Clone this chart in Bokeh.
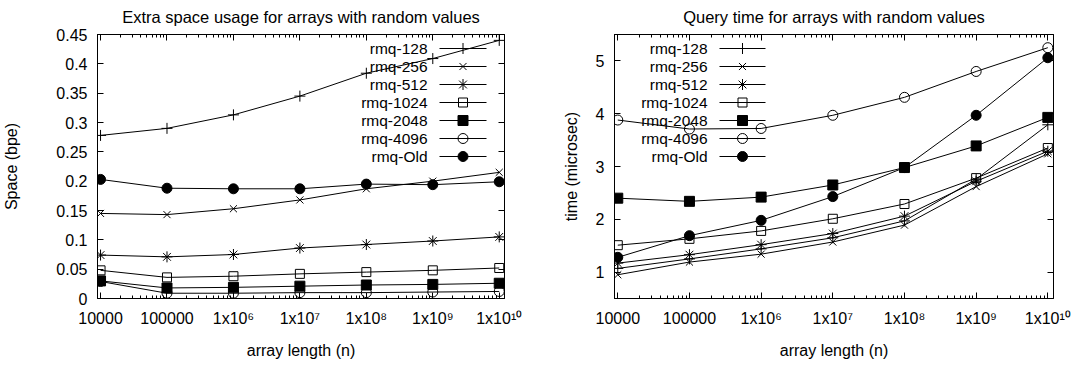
import math
from bokeh.plotting import figure
from bokeh.layouts import row
from bokeh.models import FixedTicker, LogAxis, LinearAxis, Range1d
from bokeh.embed import file_html
from bokeh.resources import INLINE
from bokeh.core.properties import value

# ---------------- data ----------------
n = [1e4, 1e5, 1e6, 1e7, 1e8, 1e9, 1e10]
series_names = ["rmq-128", "rmq-256", "rmq-512", "rmq-1024", "rmq-2048", "rmq-4096", "rmq-Old"]

space_128 = [0.278, 0.290, 0.313, 0.345, 0.384, 0.409, 0.440]
space_256 = [0.145, 0.143, 0.153, 0.168, 0.187, 0.200, 0.215]
space_512 = [0.074, 0.071, 0.075, 0.086, 0.092, 0.098, 0.105]
space_1024 = [0.048, 0.036, 0.038, 0.042, 0.045, 0.048, 0.052]
space_2048 = [0.030, 0.018, 0.019, 0.021, 0.023, 0.024, 0.026]
space_4096 = [0.029, 0.009, 0.009, 0.010, 0.010, 0.011, 0.012]
space_old = [0.203, 0.188, 0.187, 0.187, 0.195, 0.194, 0.199]

time_128 = [1.07, 1.25, 1.44, 1.65, 1.97, 2.76, 3.79]
time_256 = [0.95, 1.19, 1.34, 1.57, 1.89, 2.62, 3.24]
time_512 = [1.17, 1.33, 1.52, 1.73, 2.06, 2.72, 3.29]
time_1024 = [1.51, 1.63, 1.78, 2.01, 2.29, 2.78, 3.35]
time_2048 = [2.40, 2.34, 2.42, 2.65, 2.98, 3.39, 3.93]
time_4096 = [3.88, 3.71, 3.72, 3.97, 4.31, 4.80, 5.25]
time_old = [1.28, 1.69, 1.98, 2.43, 2.98, 3.97, 5.06]

x_tick_values = [1e4, 1e5, 1e6, 1e7, 1e8, 1e9, 1e10]
x_tick_labels = ["10000", "100000", "1x10\u2076", "1x10\u2077", "1x10\u2078", "1x10\u2079", "1x10\u00b9\u2070"]
space_tick_values = [0.0, 0.05, 0.1, 0.15, 0.2, 0.25, 0.3, 0.35, 0.4, 0.45]
space_tick_labels = ["0", "0.05", "0.1", "0.15", "0.2", "0.25", "0.3", "0.35", "0.4", "0.45"]
time_tick_values = [1.0, 2.0, 3.0, 4.0, 5.0]
time_tick_labels = ["1", "2", "3", "4", "5"]

space_series = [space_128, space_256, space_512, space_1024, space_2048, space_4096, space_old]
time_series = [time_128, time_256, time_512, time_1024, time_2048, time_4096, time_old]

# marker styles (gnuplot point types 1..7)
MARKERS = [("cross", 11, False), ("x", 10, False), ("asterisk", 11, False),
           ("square", 9, False), ("square", 10, True), ("circle", 10, False), ("circle", 10, True)]

FONT = "Liberation Sans"
FS = "16px"
LEG_FS = "15.5px"
TITLE_FS = "16.5px"
X_MIN, X_MAX = 9000, 1.2e10
minor = [k * 10 ** d for d in range(3, 11) for k in range(2, 10)]


def make_plot(title, ylabel, y_min, y_max, yticks, ylabels, series,
              frame_w, border_l, border_r, legend_text_px, legend_l0_px, legend_l1_px, ylabel_standoff):
    p = figure(width=border_l + frame_w + border_r, height=349,
               x_axis_type="log", x_range=Range1d(X_MIN, X_MAX), y_range=Range1d(y_min, y_max),
               output_backend="svg", toolbar_location=None,
               min_border_left=border_l, min_border_right=border_r,
               min_border_top=33, min_border_bottom=52)
    p.frame_width = frame_w
    p.frame_height = 264
    p.title.text = title
    p.title.align = "center"
    p.title.vertical_align = "top"
    p.title.text_font = FONT
    p.title.text_font_size = TITLE_FS
    p.title.text_font_style = "normal"
    p.title.text_color = "black"
    p.title.standoff = 14
    p.grid.visible = False
    p.outline_line_color = "black"
    p.outline_line_width = 1
    p.background_fill_color = "white"
    p.border_fill_color = "white"

    xt = FixedTicker(ticks=x_tick_values, minor_ticks=minor)
    yt = FixedTicker(ticks=yticks)

    def style(ax, labels):
        ax.axis_line_color = "black"
        ax.major_tick_line_color = "black"
        ax.minor_tick_line_color = "black"
        ax.major_tick_in = 6
        ax.major_tick_out = 0
        ax.minor_tick_in = 3
        ax.minor_tick_out = 0
        ax.major_label_text_font = FONT
        ax.major_label_text_color = "black"
        if labels:
            ax.major_label_text_font_size = FS
            ax.major_label_standoff = 10
        else:
            ax.major_label_text_font_size = "1px"
            ax.major_label_text_alpha = 0
            ax.major_label_standoff = 0
        ax.axis_label_text_font = FONT
        ax.axis_label_text_font_size = FS
        ax.axis_label_text_font_style = "normal"
        ax.axis_label_text_color = "black"

    xa = p.xaxis[0]
    xa.ticker = xt
    xa.major_label_overrides = dict(zip(x_tick_values, x_tick_labels))
    xa.axis_label = "array length (n)"
    style(xa, True)
    xa.major_label_standoff = 11
    xa.axis_label_standoff = 12

    ya = p.yaxis[0]
    ya.ticker = yt
    ya.major_label_overrides = dict(zip(yticks, ylabels))
    ya.axis_label = ylabel
    style(ya, True)
    ya.axis_label_standoff = ylabel_standoff

    top = LogAxis(ticker=xt)
    style(top, False)
    p.add_layout(top, "above")
    right = LinearAxis(ticker=yt)
    style(right, False)
    right.minor_tick_in = 0
    p.add_layout(right, "right")

    # legend geometry (in data space)
    lspan = math.log10(X_MAX) - math.log10(X_MIN)

    def px_to_x(px):
        return 10 ** (math.log10(X_MIN) + px / frame_w * lspan)

    def py_to_y(py):
        return y_max - py / 264.0 * (y_max - y_min)

    xt_ = px_to_x(legend_text_px)
    x0 = px_to_x(legend_l0_px)
    x1 = px_to_x(legend_l1_px)
    xm = px_to_x((legend_l0_px + legend_l1_px) / 2)
    ys = [py_to_y(14 + 18 * i) for i in range(len(series_names))]

    p.text(x=[xt_] * len(ys), y=ys, text=series_names, text_align="right", text_baseline="middle",
           text_font=value(FONT), text_font_size=LEG_FS, text_color="black")

    for i, (vals, (mk, sz, filled)) in enumerate(zip(series, MARKERS)):
        p.line(n, vals, line_color="black", line_width=1)
        p.segment(x0=[x0], y0=[ys[i]], x1=[x1], y1=[ys[i]], line_color="black", line_width=1)
        fill = "black" if filled else None
        p.scatter(n, vals, marker=mk, size=sz, line_color="black", fill_color=fill, line_width=1)
        p.scatter([xm], [ys[i]], marker=mk, size=sz, line_color="black", fill_color=fill, line_width=1)
    return p


p1 = make_plot("Extra space usage for arrays with random values", "Space (bpe)", 0.0, 0.45,
               space_tick_values, space_tick_labels, space_series,
               frame_w=407, border_l=93, border_r=20,
               legend_text_px=330, legend_l0_px=342, legend_l1_px=389, ylabel_standoff=33)
p2 = make_plot("Query time for arrays with random values", "time (microsec)", 0.5, 5.5,
               time_tick_values, time_tick_labels, time_series,
               frame_w=439, border_l=90, border_r=21,
               legend_text_px=93, legend_l0_px=105, legend_l1_px=151, ylabel_standoff=13)

layout = row(p1, p2)
open("out.html", "w").write(file_html(layout, INLINE))
